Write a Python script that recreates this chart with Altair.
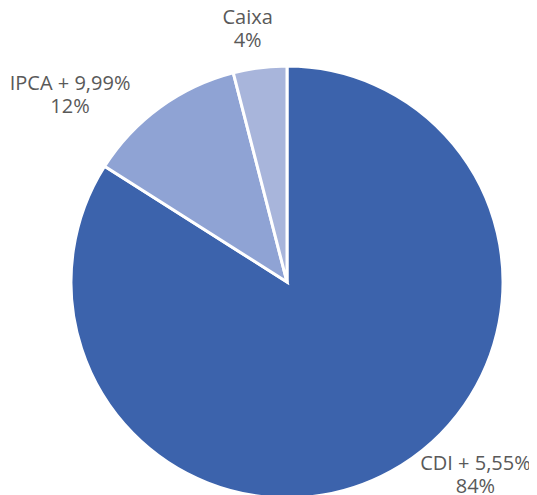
import altair as alt
import pandas as pd

categories = ["CDI + 5,55%", "IPCA + 9,99%", "Caixa"]
values = [84, 12, 4]
pct_labels = ["84%", "12%", "4%"]
colors = ["#3C63AC", "#8FA3D4", "#A8B5DB"]

df = pd.DataFrame({
    "cat": categories,
    "val": values,
    "pct": pct_labels,
    "order": list(range(len(categories))),
})
df["label"] = df["cat"] + "\n" + df["pct"]

CX, CY = 279, 274
R = 216
theta_scale = alt.Scale(domain=[0, 100])

pie = alt.Chart(df).mark_arc(radius=R, stroke="white", strokeWidth=3).encode(
    theta=alt.Theta("val:Q", stack=True, scale=theta_scale),
    order=alt.Order("order:Q"),
    x=alt.value(CX),
    y=alt.value(CY),
    color=alt.Color("cat:N", scale=alt.Scale(domain=categories, range=colors), legend=None),
)

text_base = alt.Chart(df).transform_window(
    cum="sum(val)", sort=[alt.SortField("order")], frame=[None, 0]
).transform_calculate(mid="datum.cum - datum.val / 2")

offsets = {"CDI + 5,55%": (68, -37), "IPCA + 9,99%": (-70, 4), "Caixa": (-8, -16)}
texts = []
for c in categories:
    dx, dy = offsets[c]
    texts.append(
        text_base.transform_filter(alt.datum.cat == c).mark_text(
            radius=250, dx=dx, dy=dy, lineBreak="\n", lineHeight=23,
            font="Open Sans", fontSize=20, color="#595959", align="center", baseline="middle"
        ).encode(
            theta=alt.Theta("mid:Q", scale=theta_scale),
            x=alt.value(CX),
            y=alt.value(CY),
            text="label:N",
        )
    )

chart = alt.layer(pie, *texts).properties(
    width=521, height=487, padding=0, autosize=alt.AutoSizeParams(type="none")
).configure_view(stroke=None)

chart.save("out.html", embed_options={"renderer": "svg", "actions": False})
